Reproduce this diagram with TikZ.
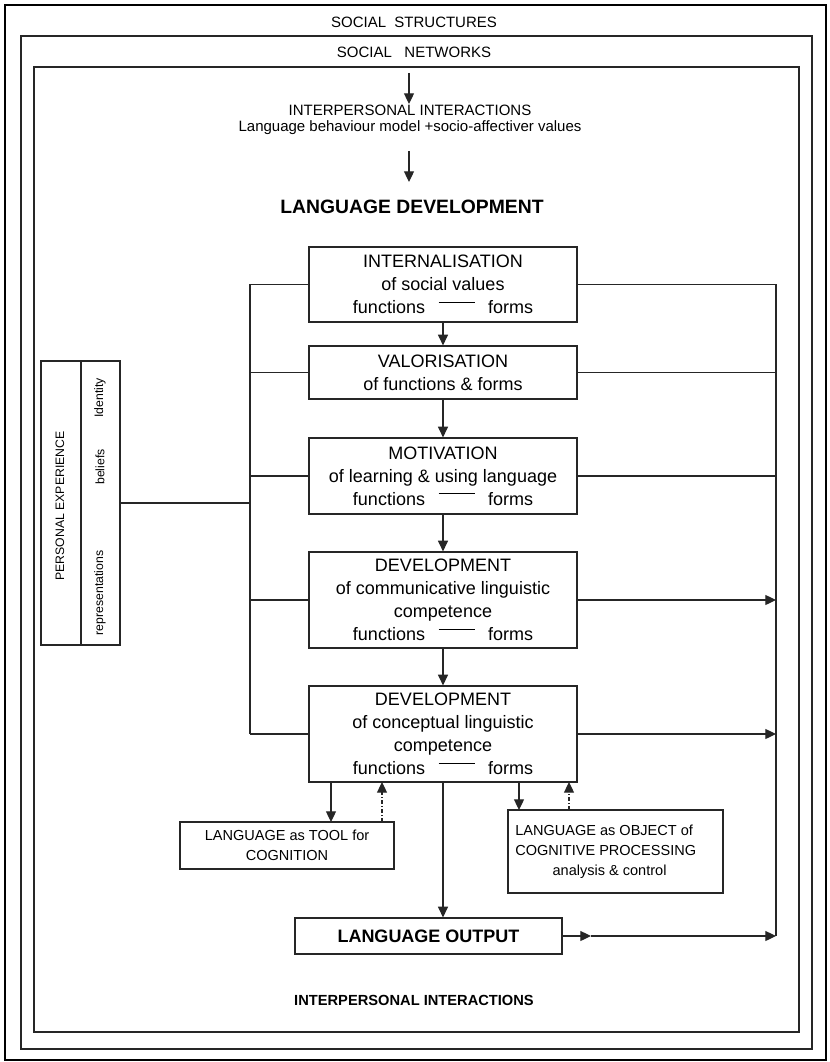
\documentclass[tikz,border=0pt]{standalone}
\usepackage{fontspec}
\setmainfont{Liberation Sans}
\usetikzlibrary{arrows.meta}
\newcommand\boxfont{\fontsize{13.5}{17.25}\selectfont}
\newcommand\topfont{\fontsize{11.25}{13.5}\selectfont}
\newcommand\smallfont{\fontsize{10.9}{15}\selectfont}
\newcommand\pefont{\fontsize{9.2}{11}\selectfont}
\newcommand\funform{functions\hspace{0.75em}\rule[0.6em]{27pt}{0.7pt}\hspace{0.75em}forms}
\begin{document}
\begin{tikzpicture}[x=0.75pt,y=-0.75pt,
  frame/.style={draw=black!85,line width=0.9pt},
  mainbox/.style={draw=black!85,line width=0.9pt,minimum width=201pt,inner sep=0pt,align=center,font=\boxfont},
  smallbox/.style={draw=black!85,line width=0.9pt,inner sep=0pt,font=\smallfont},
  conn/.style={draw=black!85,line width=0.9pt},
  arr/.style={conn,-{Triangle[length=8pt,width=7.5pt]}},
  dda/.style={arr,dash pattern=on 3pt off 1.5pt on 0.8pt off 1.5pt},
  lbl/.style={inner sep=0pt,align=center}
]
\useasboundingbox (0,0) rectangle (829,1062);
% frames
\draw[line width=1.6pt] (5,5) rectangle (826,1060);
\draw[frame] (21,36) rectangle (812,1049);
\draw[frame] (34,67) rectangle (799,1032);
\node[lbl,font=\topfont] (ss) at (414,22) {SOCIAL\ \ STRUCTURES};
\node[lbl,font=\topfont] (sn) at (414,52) {SOCIAL\ \ \ NETWORKS};
% top texts
\node[lbl,font=\topfont] (ii) at (410,110) {INTERPERSONAL INTERACTIONS};
\node[lbl,font=\topfont] (lb) at (410,128) {Language behaviour model +socio-affectiver values};
\node[lbl,font=\fontsize{14.5}{16}\selectfont\bfseries] (ld) at (412,207) {LANGUAGE DEVELOPMENT};
\coordinate (a1s) at (409,73);
\coordinate (a1e) at (409,104);
\coordinate (a2s) at (409,151);
\coordinate (a2e) at (409,182);
\draw[arr] (a1s) -- (a1e);
\draw[arr] (a2s) -- (a2e);
% main boxes
\node[mainbox,minimum height=56.25pt] (int) at (443,284.5) {INTERNALISATION\\of social values\\\funform};
\node[mainbox,minimum height=39.75pt] (val) at (443,372.5) {VALORISATION\\of functions \& forms};
\node[mainbox,minimum height=57pt] (mot) at (443,476) {MOTIVATION\\of learning \& using language\\\funform};
\node[mainbox,minimum height=72pt] (dcom) at (443,600) {DEVELOPMENT\\of communicative linguistic\\competence\\\funform};
\node[mainbox,minimum height=72pt] (dcon) at (443,734) {DEVELOPMENT\\of conceptual linguistic\\competence\\\funform};
\draw[arr] (int) -- (val);
\draw[arr] (val) -- (mot);
\draw[arr] (mot) -- (dcom);
\draw[arr] (dcom) -- (dcon);
% personal experience
\node[draw=black!85,line width=0.9pt,minimum width=30pt,minimum height=213pt,inner sep=0pt] (pe1) at (61,503) {};
\node[draw=black!85,line width=0.9pt,minimum width=29.25pt,minimum height=213pt,inner sep=0pt] (pe2) at (100.5,503) {};
\node[lbl,font=\pefont,rotate=90] (pet) at (60,506) {PERSONAL EXPERIENCE};
\node[lbl,font=\pefont,rotate=90] (pid) at (100,398) {Identity};
\node[lbl,font=\pefont,rotate=90] (pbe) at (100,467) {beliefs};
\node[lbl,font=\pefont,rotate=90] (pre) at (100,593) {representations};
% left bus
\coordinate (lt) at (250,284.5);
\coordinate (lb2) at (250,734);
\coordinate (lpe) at (250,503);
\draw[conn] (lt) -- (lb2);
\draw[conn] (int.west) -- (lt);
\draw[conn] (val.west) -- (250,372.5);
\draw[conn] (mot.west) -- (250,476);
\draw[conn] (dcom.west) -- (250,600);
\draw[conn] (dcon.west) -- (lb2);
\draw[conn] (pe2.east) -- (lpe);
% right bus
\coordinate (rt) at (776,284.5);
\coordinate (rb) at (776,936);
\draw[conn] (rt) -- (rb);
\draw[conn] (int.east) -- (rt);
\draw[conn] (val.east) -- (776,372.5);
\draw[conn] (mot.east) -- (776,476);
\draw[arr] (dcom.east) -- (776,600);
\draw[arr] (dcon.east) -- (776,734);
% lower boxes
\node[smallbox,minimum width=160.5pt,minimum height=35.25pt,align=center] (tool) at (287,845.5) {LANGUAGE as TOOL for\\COGNITION};
\node[smallbox,minimum width=161.25pt,minimum height=62.25pt] (obj) at (615.5,851.5) {};
\node[lbl,font=\smallfont,align=left,anchor=west] (objt) at (515,852) {LANGUAGE as OBJECT of\\COGNITIVE PROCESSING\\\hspace*{28pt}analysis \& control};
\node[draw=black!85,line width=0.9pt,minimum width=200.25pt,minimum height=27pt,inner sep=0pt,font=\fontsize{13.5}{16}\selectfont\bfseries] (out) at (428.5,936) {LANGUAGE OUTPUT};
\draw[arr] (331,782) -- (331,822);
\draw[dda] (382,822) -- (382,782);
\draw[arr] (519,782) -- (519,810);
\draw[dda] (569,810) -- (569,782);
\draw[arr] (dcon.south) -- (dcon.south |- out.north);
\coordinate (mid) at (591,936);
\draw[arr] (out.east) -- (mid);
\draw[arr] (mid) -- (rb);
% bottom text
\node[lbl,font=\fontsize{11}{13}\selectfont\bfseries] (bi) at (414,1000) {INTERPERSONAL INTERACTIONS};
\end{tikzpicture}
\end{document}
